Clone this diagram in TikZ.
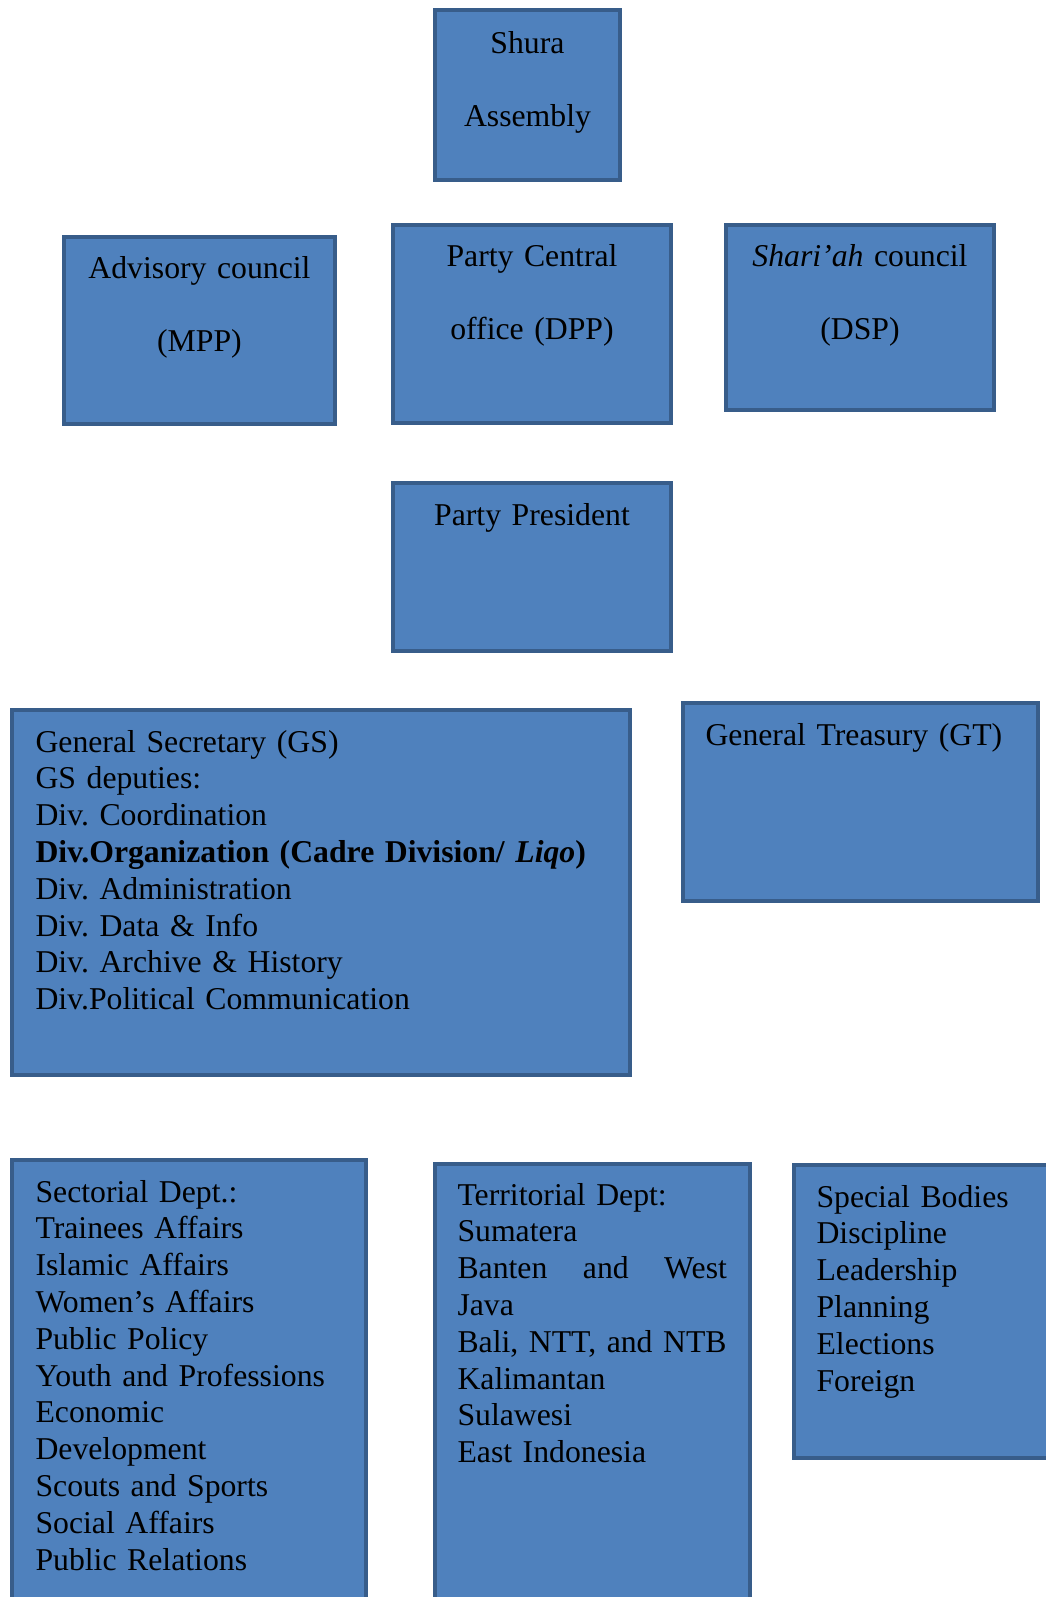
\documentclass[tikz,border=0pt]{standalone}
\usepackage{fontspec}
\setmainfont{Liberation Serif}
\usepackage{xcolor}
\usetikzlibrary{fit}
\definecolor{boxfill}{HTML}{4F81BD}
\definecolor{boxline}{HTML}{385D8A}
\frenchspacing

\begin{document}
\begin{tikzpicture}[x=0.375pt, y=-0.375pt,
    unit/.style={draw=boxline, fill=boxfill, line width=1.5pt, inner sep=0pt},
    lbl/.style={inner sep=0pt, font=\fontsize{11.9}{27.5}\selectfont, align=center, anchor=base, text width=100pt},
    list/.style={inner sep=0pt, font=\fontsize{11.9}{13.8}\selectfont, align=left, anchor=base west}]
    \useasboundingbox (0,0) rectangle (1046,1597);
    \clip (0,0) rectangle (1046,1597);
    % Boxes
    \node[unit, fit={(435,10) (620,180)}] (shura) {};
    \node[unit, fit={(64,237) (335,424)}] (mpp) {};
    \node[unit, fit={(393,225) (671,423)}] (dpp) {};
    \node[unit, fit={(726,225) (994,410)}] (dsp) {};
    \node[unit, fit={(393,483) (671,651)}] (pres) {};
    \node[unit, fit={(12,710) (630,1075)}] (gs) {};
    \node[unit, fit={(683,703) (1038,901)}] (gt) {};
    \node[unit, fit={(12,1160) (366,1620)}] (sect) {};
    \node[unit, fit={(435,1164) (750,1620)}] (terr) {};
    \node[unit, fit={(794,1165) (1070,1458)}] (spec) {};
    % Labels
    \node[lbl] (shuraTxt) at (527.5,53) {Shura\\Assembly};
    \node[lbl] (mppTxt) at (199.5,278) {Advisory council\\(MPP)};
    \node[lbl] (dppTxt) at (532,266) {Party Central\\office (DPP)};
    \node[lbl] (dspTxt) at (860,266) {\textit{Shari’ah} council\\(DSP)};
    \node[lbl] (presTxt) at (532,525) {Party President};
    \node[list, text width=220pt] (gsTxt) at (35,752) {General Secretary (GS)\\
        GS deputies:\\
        Div. Coordination\\
        \textbf{Div.Organization (Cadre Division/ \textit{Liqo})}\\
        Div. Administration\\
        Div. Data \& Info\\
        Div. Archive \& History\\
        Div.Political Communication};
    \node[list, text width=130pt] (gtTxt) at (705,745) {General Treasury (GT)};
    \node[list, text width=125pt] (sectTxt) at (35,1202) {Sectorial Dept.:\\
        Trainees Affairs\\
        Islamic Affairs\\
        Women’s Affairs\\
        Public Policy\\
        Youth and Professions\\
        Economic\\
        Development\\
        Scouts and Sports\\
        Social Affairs\\
        Public Relations};
    \node[list, text width=106pt] (terrTxt) at (457,1205) {Territorial Dept:\\
        Sumatera\\
        \leavevmode\hbox to 101pt{Banten\hfill and\hfill West}\\
        Java\\
        Bali, NTT, and NTB\\
        Kalimantan\\
        Sulawesi\\
        East Indonesia};
    \node[list, text width=90pt] (specTxt) at (816,1207) {Special Bodies\\
        Discipline\\
        Leadership\\
        Planning\\
        Elections\\
        Foreign};
\end{tikzpicture}
\end{document}
